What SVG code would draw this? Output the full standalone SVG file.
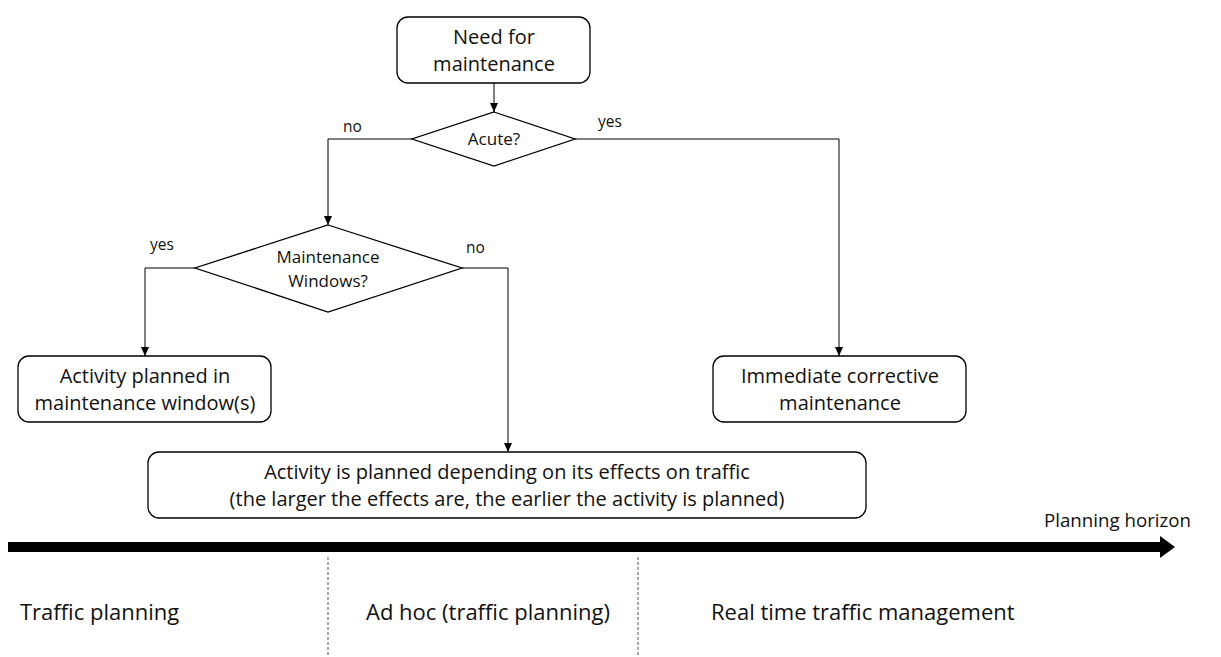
<svg xmlns="http://www.w3.org/2000/svg" width="1221" height="657" viewBox="0 0 1221 657">
  <style>
    .box { fill: #ffffff; stroke: #000000; stroke-width: 1.3; }
    .dia { fill: #ffffff; stroke: #000000; stroke-width: 1.3; }
    .conn { fill: none; stroke: #000000; stroke-width: 1; }
    .t { font-family: "Open Sans", "Liberation Sans", sans-serif; fill: #111111; text-anchor: middle; }
    .lbl { font-family: "Open Sans", "Liberation Sans", sans-serif; fill: #111111; font-size: 15.5px; }
    .big { font-family: "Open Sans", "Liberation Sans", sans-serif; fill: #111111; font-size: 22px; }
    .axis-title { font-family: "Open Sans", "Liberation Sans", sans-serif; fill: #111111; font-size: 18.7px; text-anchor: end; }
    .sep { stroke: #555555; stroke-width: 1; stroke-dasharray: 3 2; }
  </style>
  <defs>
    <marker id="ah" markerWidth="10" markerHeight="10" refX="9" refY="5" orient="auto" markerUnits="userSpaceOnUse">
      <path d="M0,1 L9,5 L0,9 Z" fill="#000000"/>
    </marker>
  </defs>
  <rect width="1221" height="657" fill="#ffffff"/>

  <!-- connectors -->
  <g id="connectors">
    <line class="conn" x1="494" y1="83" x2="494" y2="112" marker-end="url(#ah)"/>
    <polyline class="conn" points="412,139 328,139 328,225" marker-end="url(#ah)"/>
    <polyline class="conn" points="575,139 839,139 839,356" marker-end="url(#ah)"/>
    <polyline class="conn" points="195,268 145,268 145,356" marker-end="url(#ah)"/>
    <polyline class="conn" points="462,268 508,268 508,452" marker-end="url(#ah)"/>
    <text class="lbl" x="343" y="132">no</text>
    <text class="lbl" x="598" y="127">yes</text>
    <text class="lbl" x="150" y="250">yes</text>
    <text class="lbl" x="466" y="253">no</text>
  </g>

  <g id="need">
    <rect class="box" x="397" y="17" width="193" height="66" rx="11"/>
    <text class="t" x="494" y="44" font-size="20">Need for</text>
    <text class="t" x="494" y="71" font-size="20">maintenance</text>
  </g>

  <g id="acute">
    <polygon class="dia" points="494,112 575,139 494,166 412,139"/>
    <text class="t" x="494" y="145" font-size="17">Acute?</text>
  </g>

  <g id="windows">
    <polygon class="dia" points="328,225 462,268 328,312 195,268"/>
    <text class="t" x="328" y="263" font-size="17">Maintenance</text>
    <text class="t" x="328" y="287" font-size="17">Windows?</text>
  </g>

  <g id="planned-window">
    <rect class="box" x="18" y="356" width="253" height="66" rx="11"/>
    <text class="t" x="145" y="383" font-size="20">Activity planned in</text>
    <text class="t" x="145" y="410" font-size="20">maintenance window(s)</text>
  </g>

  <g id="immediate">
    <rect class="box" x="713" y="356" width="253" height="66" rx="11"/>
    <text class="t" x="840" y="383" font-size="20">Immediate corrective</text>
    <text class="t" x="840" y="410" font-size="20">maintenance</text>
  </g>

  <g id="effects">
    <rect class="box" x="148" y="452" width="718" height="66" rx="11"/>
    <text class="t" x="507" y="479" font-size="20">Activity is planned depending on its effects on traffic</text>
    <text class="t" x="507" y="506" font-size="20">(the larger the effects are, the earlier the activity is planned)</text>
  </g>

  <!-- planning horizon axis -->
  <g id="horizon">
    <rect x="8" y="542" width="1156" height="10" fill="#000000"/>
    <polygon points="1160,536 1175,547 1160,558" fill="#000000"/>
    <text class="axis-title" x="1191" y="527">Planning horizon</text>
    <line class="sep" x1="328" y1="557" x2="328" y2="657"/>
    <line class="sep" x1="638" y1="557" x2="638" y2="657"/>
    <text class="big" x="20" y="620">Traffic planning</text>
    <text class="big" x="366" y="620">Ad hoc (traffic planning)</text>
    <text class="big" x="711" y="620">Real time traffic management</text>
  </g>
</svg>
